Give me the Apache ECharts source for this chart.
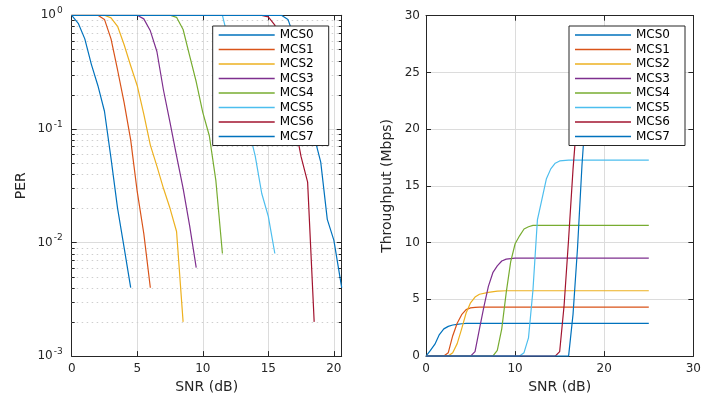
<!DOCTYPE html>
<html><head><meta charset="utf-8">
<script src="https://cdn.jsdelivr.net/npm/echarts@6/dist/echarts.min.js"></script>
<style>html,body{margin:0;padding:0;background:#fff}#c{width:704px;height:399px}</style>
</head><body><div id="c"></div>
<script>
// ---------- data ----------
const mcsNames = ['MCS0','MCS1','MCS2','MCS3','MCS4','MCS5','MCS6','MCS7'];
const mcsColors = ['#0072BD','#D95319','#EDB120','#7E2F8E','#77AC30','#4DBEEE','#A2142F','#0072BD'];

// Left panel: PER vs SNR (dB)
const perSnr0 = [0,0.5,1,1.5,2,2.5,3,3.5,4,4.5];
const perVal0 = [1,0.85,0.62,0.37,0.24,0.143,0.055,0.02,0.009,0.004];
const perSnr1 = [0,2,2.5,3,3.5,4,4.5,5,5.5,6];
const perVal1 = [1,1,0.92,0.62,0.33,0.17,0.08,0.028,0.012,0.004];
const perSnr2 = [0,2.5,3,3.5,4,4.5,5,5.5,6,6.5,7,7.5,8,8.5];
const perVal2 = [1,1,0.95,0.8,0.55,0.36,0.24,0.135,0.072,0.047,0.03,0.02,0.0125,0.002];
const perSnr3 = [0,5,5.5,6,6.5,7,7.5,8,8.5,9,9.5];
const perVal3 = [1,1,0.93,0.73,0.48,0.22,0.114,0.058,0.03,0.014,0.006];
const perSnr4 = [0,7.5,8,8.5,9,9.5,10,10.5,11,11.5];
const perVal4 = [1,1,0.96,0.75,0.44,0.26,0.14,0.087,0.035,0.008];
const perSnr5 = [0,11.5,12,12.5,13,13.5,14,14.5,15,15.5];
const perVal5 = [1,1,0.58,0.32,0.18,0.1,0.058,0.027,0.017,0.008];
const perSnr6 = [0,14.5,15,15.5,16,16.5,17,17.5,18,18.5];
const perVal6 = [1,1,0.97,0.82,0.43,0.22,0.114,0.057,0.034,0.002];
const perSnr7 = [0,16,16.5,17,17.5,18,18.5,19,19.5,20,20.6];
const perVal7 = [1,1,0.92,0.63,0.32,0.166,0.086,0.051,0.016,0.0105,0.004];

// Right panel: Throughput (Mbps) vs SNR (dB)
const thrSnr0 = [0,0.5,1,1.5,2,2.5,3,3.5,4,4.5,25];
const thrVal0 = [0,0.5,1.05,1.9,2.4,2.62,2.74,2.8,2.85,2.88,2.88];
const thrSnr1 = [0,2,2.5,3,3.5,4,4.5,5,5.5,6,25];
const thrVal1 = [0,0,0.3,1.8,2.9,3.65,4.1,4.25,4.3,4.32,4.32];
const thrSnr2 = [0,2.5,3,3.5,4,4.5,5,5.5,6,7,8,9,25];
const thrVal2 = [0,0,0.3,1.1,2.4,3.8,4.7,5.2,5.45,5.62,5.72,5.76,5.76];
const thrSnr3 = [0,5,5.5,6,6.5,7,7.5,8,8.5,9,10,25];
const thrVal3 = [0,0,0.4,2.4,4.35,6.15,7.35,7.95,8.38,8.55,8.64,8.64];
const thrSnr4 = [0,7.5,8,8.5,9,9.5,10,10.5,11,11.5,12,25];
const thrVal4 = [0,0,0.5,2.4,5.6,8.3,9.9,10.6,11.2,11.4,11.52,11.52];
const thrSnr5 = [0,10.5,11,11.5,12,12.5,13,13.5,14,14.5,15,16,25];
const thrVal5 = [0,0,0.3,1.6,5.8,12.0,13.8,15.6,16.5,17.0,17.2,17.28,17.28];
const thrSnr6 = [0,14.5,15,15.5,16,16.5,17,17.5,18,25];
const thrVal6 = [0,0,0.4,4.5,10.3,16.5,21.5,23,23.04,23.04];
const thrSnr7 = [0,16,16.5,17,17.5,18,18.5,19,25];
const thrVal7 = [0,0,3.7,9.5,16.8,22.5,25.3,25.92,25.92];

// minor log ticks for PER axis
const perMinorTicks = [0.002,0.003,0.004,0.005,0.006,0.007,0.008,0.009,
                       0.02,0.03,0.04,0.05,0.06,0.07,0.08,0.09,
                       0.2,0.3,0.4,0.5,0.6,0.7,0.8,0.9];

// axis ranges
const leftXMin = 0, leftXMax = 20.6, leftXStep = 5;
const leftYMin = 0.001, leftYMax = 1;
const rightXMin = 0, rightXMax = 30, rightXStep = 10;
const rightYMin = 0, rightYMax = 30, rightYStep = 5;

const perSnr = [perSnr0,perSnr1,perSnr2,perSnr3,perSnr4,perSnr5,perSnr6,perSnr7];
const perVal = [perVal0,perVal1,perVal2,perVal3,perVal4,perVal5,perVal6,perVal7];
const thrSnr = [thrSnr0,thrSnr1,thrSnr2,thrSnr3,thrSnr4,thrSnr5,thrSnr6,thrSnr7];
const thrVal = [thrVal0,thrVal1,thrVal2,thrVal3,thrVal4,thrVal5,thrVal6,thrVal7];

// ---------- styling ----------
const FONT = 'DejaVu Sans';
const AX = '#262626';
const GRIDC = '#dcdcdc';

function zip(a, b) { return a.map((v, i) => [v, b[i]]); }

function mainX(grid, min, max, step, labelFmt) {
  return {
    type: 'value', gridIndex: grid, position: 'bottom', min: min, max: max, interval: step,
    name: 'SNR (dB)', nameLocation: 'middle', nameGap: 23,
    nameTextStyle: { fontFamily: FONT, fontSize: 14, color: AX },
    axisLine: { show: true, onZero: false, lineStyle: { color: AX, width: 1 } },
    axisTick: { show: true, inside: true, length: 5, lineStyle: { color: AX } },
    axisLabel: { show: true, margin: 7, fontFamily: FONT, fontSize: 12, color: AX, formatter: labelFmt },
    splitLine: { show: true, lineStyle: { color: GRIDC, width: 1 } }
  };
}
function topX(grid, min, max, step) {
  return {
    type: 'value', gridIndex: grid, position: 'top', min: min, max: max, interval: step,
    axisLine: { show: true, onZero: false, lineStyle: { color: AX, width: 1 } },
    axisTick: { show: true, inside: true, length: 5, lineStyle: { color: AX } },
    axisLabel: { show: false }, splitLine: { show: false }
  };
}

const option = {
  animation: false,
  backgroundColor: '#fff',
  grid: [
    { left: 71.7, right: 362.3, top: 15.3, bottom: 40.7, containLabel: false },
    { left: 426, right: 6.7, top: 15.7, bottom: 41.3, containLabel: false }
  ],
  xAxis: [
    mainX(0, leftXMin, leftXMax, leftXStep, v => (Math.abs(v % leftXStep) < 1e-9 ? String(v) : '')),
    topX(0, leftXMin, leftXMax, leftXStep),
    mainX(1, rightXMin, rightXMax, rightXStep, v => String(v)),
    topX(1, rightXMin, rightXMax, rightXStep)
  ],
  yAxis: [
    {
      type: 'log', logBase: 10, gridIndex: 0, position: 'left', min: leftYMin, max: leftYMax,
      name: 'PER', nameLocation: 'middle', nameGap: 43,
      nameTextStyle: { fontFamily: FONT, fontSize: 14, color: AX },
      axisLine: { show: true, onZero: false, lineStyle: { color: AX, width: 1 } },
      axisTick: { show: true, inside: true, length: 5, lineStyle: { color: AX } },
      axisLabel: {
        show: true, margin: 9, color: AX,
        formatter: v => '{b|10}{e|' + Math.round(Math.log10(v)) + '}',
        rich: {
          b: { fontFamily: FONT, fontSize: 12, color: AX, verticalAlign: 'bottom', lineHeight: 12 },
          e: { fontFamily: FONT, fontSize: 9, color: AX, verticalAlign: 'bottom', padding: [0, 0, 6, 1], lineHeight: 9 }
        }
      },
      splitLine: { show: true, lineStyle: { color: GRIDC, width: 1 } }
    },
    {
      type: 'log', logBase: 10, gridIndex: 0, position: 'right', min: leftYMin, max: leftYMax,
      axisLine: { show: true, onZero: false, lineStyle: { color: AX, width: 1 } },
      axisTick: { show: true, inside: true, length: 5, lineStyle: { color: AX } },
      axisLabel: { show: false }, splitLine: { show: false }
    },
    {
      type: 'value', gridIndex: 1, position: 'left', min: rightYMin, max: rightYMax, interval: rightYStep,
      name: 'Throughput (Mbps)', nameLocation: 'middle', nameGap: 32,
      nameTextStyle: { fontFamily: FONT, fontSize: 14, color: AX },
      axisLine: { show: true, onZero: false, lineStyle: { color: AX, width: 1 } },
      axisTick: { show: true, inside: true, length: 5, lineStyle: { color: AX } },
      axisLabel: { show: true, margin: 6, fontFamily: FONT, fontSize: 12, color: AX },
      splitLine: { show: true, lineStyle: { color: GRIDC, width: 1 } }
    },
    {
      type: 'value', gridIndex: 1, position: 'right', min: rightYMin, max: rightYMax, interval: rightYStep,
      axisLine: { show: true, onZero: false, lineStyle: { color: AX, width: 1 } },
      axisTick: { show: true, inside: true, length: 5, lineStyle: { color: AX } },
      axisLabel: { show: false }, splitLine: { show: false }
    }
  ],
  legend: [0, 1].map(k => ({
    left: k === 0 ? 212.7 : 569, top: 26, orient: 'vertical',
    data: mcsNames, icon: 'rect', itemWidth: 56, itemHeight: 1.5, itemGap: 0.5,
    padding: [2, 7, 2, 6], borderColor: AX, borderWidth: 1, backgroundColor: '#fff',
    selectedMode: false,
    textStyle: { fontFamily: FONT, fontSize: 12, color: '#000', lineHeight: 14, width: 42 }
  })),
  series: []
};

// minor grid lines + minor ticks for the log axis
option.series.push({
  type: 'custom', xAxisIndex: 0, yAxisIndex: 0, silent: true, z: 1,
  data: perMinorTicks.map(v => [leftXMin, v]),
  encode: { x: 0, y: 1 },
  renderItem: function (params, api) {
    const a = api.coord([leftXMin, api.value(1)]);
    const b = api.coord([leftXMax, api.value(1)]);
    const y = Math.round(a[1]) + 0.5;
    return {
      type: 'group', children: [
        { type: 'line', shape: { x1: a[0], y1: y, x2: b[0], y2: y }, style: { stroke: '#cfcfcf', lineWidth: 1, lineDash: [1.5, 3.5] } },
        { type: 'line', shape: { x1: a[0], y1: y, x2: a[0] + 3, y2: y }, style: { stroke: AX, lineWidth: 1 } },
        { type: 'line', shape: { x1: b[0] - 3, y1: y, x2: b[0], y2: y }, style: { stroke: AX, lineWidth: 1 } }
      ]
    };
  }
});

for (let i = 0; i < mcsNames.length; i++) {
  option.series.push({
    name: mcsNames[i], type: 'line', xAxisIndex: 0, yAxisIndex: 0,
    data: zip(perSnr[i], perVal[i]), showSymbol: false, symbol: 'none',
    color: mcsColors[i], lineStyle: { color: mcsColors[i], width: 1.2 }, z: 2
  });
}
for (let i = 0; i < mcsNames.length; i++) {
  option.series.push({
    name: mcsNames[i], type: 'line', xAxisIndex: 2, yAxisIndex: 2,
    data: zip(thrSnr[i], thrVal[i]), showSymbol: false, symbol: 'none',
    color: mcsColors[i], lineStyle: { color: mcsColors[i], width: 1.2 }, z: 2
  });
}

const chart = echarts.init(document.getElementById('c'), null, { renderer: 'canvas' });
chart.setOption(option);
</script>
</body></html>
